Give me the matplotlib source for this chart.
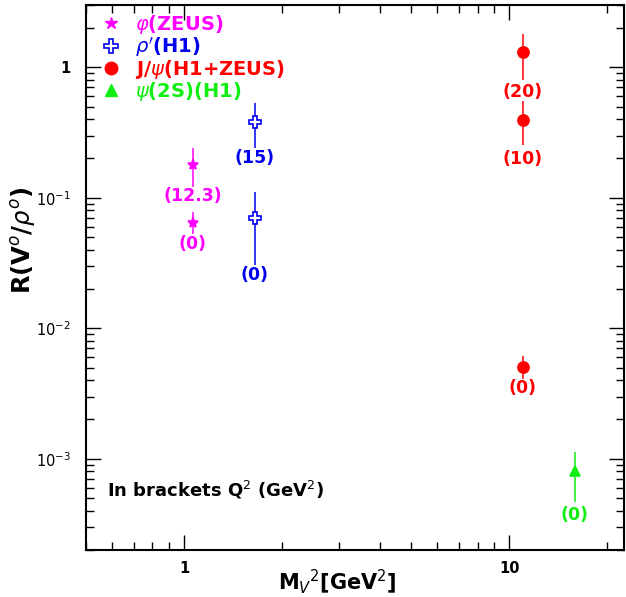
import numpy as np
from matplotlib import pyplot as plt
from matplotlib import ticker
from matplotlib.lines import Line2D

plt.rcParams['font.family'] = ['DejaVu Sans']
plt.rcParams['mathtext.fontset'] = 'dejavusans'

##

# phi (ZEUS)
phi_x = [1.066, 1.066]
phi_y = [0.179, 0.0645]
phi_lo = [0.121, 0.053]
phi_hi = [0.241, 0.078]
phi_q2 = ['(12.3)', '(0)']
phi_lab_y = [0.1035, 0.0443]

# rho' (H1)
rho_x = [1.65, 1.65]
rho_y = [0.38, 0.0705]
rho_lo = [0.24, 0.0306]
rho_hi = [0.531, 0.11]
rho_q2 = ['(15)', '(0)']
rho_lab_y = [0.202, 0.0256]

# J/psi (H1+ZEUS)
jpsi_x = [11.0, 11.0, 11.0]
jpsi_y = [1.30, 0.391, 0.00505]
jpsi_lo = [0.80, 0.255, 0.0041]
jpsi_hi = [1.81, 0.547, 0.0061]
jpsi_q2 = ['(20)', '(10)', '(0)']
jpsi_lab_y = [0.652, 0.199, 0.00348]

# psi(2S) (H1)
psi2s_x = [15.9]
psi2s_y = [0.00080]
psi2s_lo = [0.00047]
psi2s_hi = [0.00113]
psi2s_q2 = ['(0)']
psi2s_lab_y = [0.00037]

MAGENTA = '#ff00ff'
BLUE = '#0000f0'
RED = '#ff0000'
GREEN = '#11ee11'

##

fig = plt.figure(figsize=(6.26, 5.97), dpi=100)
ax = fig.add_axes([86/626, 1-550/597, (624-86)/626, (550-5)/597])
ax.set_xscale('log')
ax.set_yscale('log')
ax.set_xlim(0.5, 22.5)
ax.set_ylim(2e-4, 3.0)

def series(x, y, lo, hi, q2, laby, color, marker, ms, face=None):
    y = np.array(y)
    yerr = [y - np.array(lo), np.array(hi) - y]
    ax.errorbar(x, y, yerr=yerr, fmt=marker, color=color, ms=ms,
                mfc=face if face else color, mec=color, mew=1.2,
                elinewidth=1.1, capsize=0, zorder=3)
    for xi, yi, s in zip(x, laby, q2):
        ax.text(xi, yi, s, color=color, fontsize=12.5, fontweight='bold',
                ha='center', va='center')

series(phi_x, phi_y, phi_lo, phi_hi, phi_q2, phi_lab_y, MAGENTA, '*', 8)
series(rho_x, rho_y, rho_lo, rho_hi, rho_q2, rho_lab_y, BLUE, 'P', 9, face='white')
series(jpsi_x, jpsi_y, jpsi_lo, jpsi_hi, jpsi_q2, jpsi_lab_y, RED, 'o', 8)
series(psi2s_x, psi2s_y, psi2s_lo, psi2s_hi, psi2s_q2, psi2s_lab_y, GREEN, '^', 7)

# legend
handles = [
    Line2D([], [], ls='none', marker='*', color=MAGENTA, ms=9),
    Line2D([], [], ls='none', marker='P', color=BLUE, mfc='white', mew=1.2, ms=10),
    Line2D([], [], ls='none', marker='o', color=RED, ms=9),
    Line2D([], [], ls='none', marker='^', color=GREEN, ms=9),
]
labels = [r'$\varphi$(ZEUS)', r"$\rho'$(H1)", r'J/$\psi$(H1+ZEUS)', r'$\psi$(2S)(H1)']
leg = ax.legend(handles, labels, loc='upper left', bbox_to_anchor=(0.0, 1.01),
                frameon=False, handlelength=1.2, handletextpad=0.6,
                labelspacing=-0.05, borderaxespad=0.3,
                labelcolor=[MAGENTA, BLUE, RED, GREEN],
                prop={'weight': 'bold', 'size': 14})

ax.text(0.039, 0.11, r'In brackets Q$^2$ (GeV$^2$)', transform=ax.transAxes,
        fontsize=13, fontweight='bold', ha='left', va='center')

# ticks
ax.xaxis.set_major_locator(ticker.FixedLocator([1, 10]))
ax.xaxis.set_major_formatter(ticker.FixedFormatter(['1', '10']))
ax.xaxis.set_minor_locator(ticker.LogLocator(base=10, subs=np.arange(2, 10), numticks=20))
ax.xaxis.set_minor_formatter(ticker.NullFormatter())

ax.yaxis.set_major_locator(ticker.FixedLocator([1e-3, 1e-2, 1e-1, 1]))
ax.yaxis.set_major_formatter(ticker.FixedFormatter(
    [r'$10^{-3}$', r'$10^{-2}$', r'$10^{-1}$', '1']))
ax.yaxis.set_minor_locator(ticker.LogLocator(base=10, subs=np.arange(2, 10), numticks=20))
ax.yaxis.set_minor_formatter(ticker.NullFormatter())

ax.tick_params(which='both', direction='in', top=True, right=True, width=1.0)
ax.tick_params(which='major', length=11, labelsize=10.5)
ax.tick_params(axis='y', which='major', pad=11)
ax.tick_params(axis='x', which='major', pad=8)
ax.tick_params(which='minor', length=5.5)
for lab in ax.get_xticklabels() + ax.get_yticklabels():
    lab.set_fontweight('bold')
for sp in ax.spines.values():
    sp.set_linewidth(1.5)

fig.text(337/626, 1-582/597, r'M$_V$$^2$[GeV$^2$]', fontsize=15, fontweight='bold',
         ha='center', va='center')
fig.text(24/626, 1-240/597, r'R(V$^o$/$\rho^o$)', fontsize=17.5, fontweight='bold',
         ha='center', va='center', rotation=90)

fig.savefig('out.png', dpi=100)
